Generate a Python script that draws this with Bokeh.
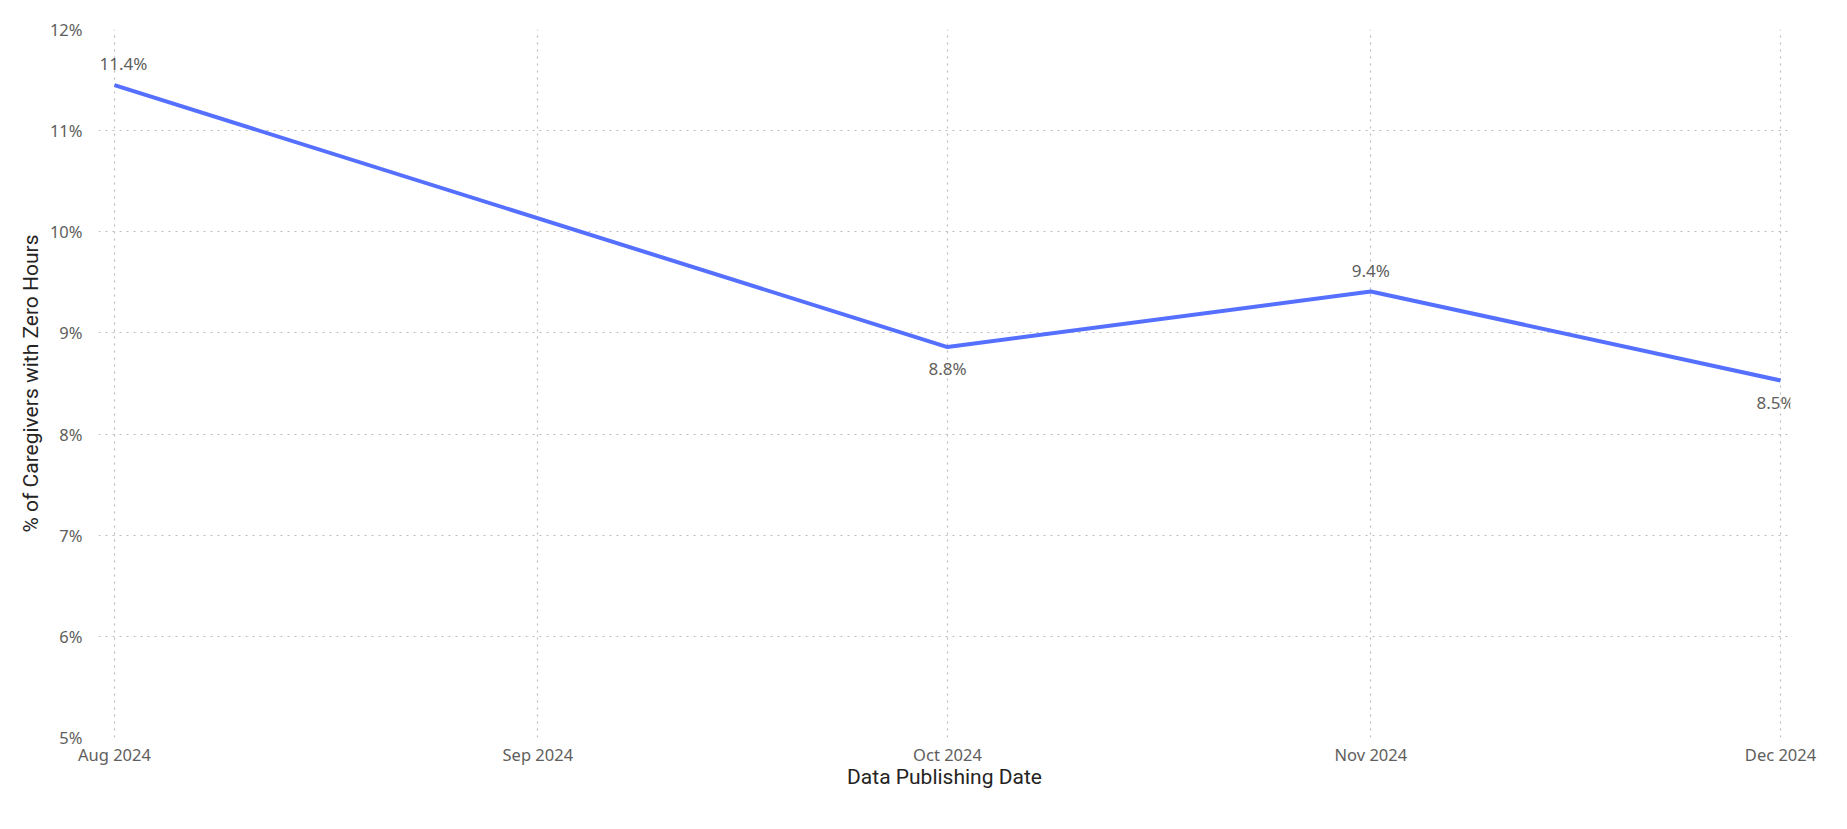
from datetime import datetime
from bokeh.plotting import figure
from bokeh.models import (Range1d, FixedTicker, DatetimeTickFormatter,
                          ColumnDataSource, CustomJSTickFormatter)
from bokeh.core.properties import value
from bokeh.embed import file_html
from bokeh.resources import INLINE

# ---- data ----
dates = ["2024-08-01", "2024-10-01", "2024-11-01", "2024-12-01"]
pct_zero_hours = [11.45, 8.86, 9.41, 8.53]
data_labels = ["11.4%", "8.8%", "9.4%", "8.5%"]
tick_months = ["2024-08-01", "2024-09-01", "2024-10-01", "2024-11-01", "2024-12-01"]
y_ticks = [5, 6, 7, 8, 9, 10, 11, 12]

# ---- style (label placement) ----
label_dx = [9, 0, 0, -5]
label_dy = [-22, 21, -21, 22]

def ms(s):
    return datetime.strptime(s, "%Y-%m-%d").timestamp() * 1000.0

xs = [datetime.strptime(d, "%Y-%m-%d") for d in dates]
DAY = 86400000.0

src = ColumnDataSource(dict(x=xs, y=pct_zero_hours, lab=data_labels, dx=label_dx, dy=label_dy))

p = figure(width=1847, height=829, x_axis_type="datetime",
           output_backend="svg", toolbar_location=None,
           x_range=Range1d(ms(tick_months[0]) - 1.17 * DAY, ms(tick_months[-1]) + 0.73 * DAY),
           y_range=Range1d(5, 12),
           min_border_left=98, min_border_right=57, min_border_top=29, min_border_bottom=92)
p.outline_line_color = None
p.background_fill_color = "white"
p.border_fill_color = "white"

p.line("x", "y", source=src, line_color="#5570FF", line_width=4, line_join="round")

p.text("x", "y", text="lab", source=src, x_offset="dx", y_offset="dy",
       text_align="center", text_baseline="middle", text_font=value("Noto Sans"),
       text_font_size="17px", text_color="#605E5C")

# x axis
xa = p.xaxis[0]
xa.ticker = FixedTicker(ticks=[ms(t) for t in tick_months])
xa.formatter = DatetimeTickFormatter(days="%b %Y", months="%b %Y", years="%b %Y")
xa.axis_line_color = None
xa.major_tick_line_color = None
xa.minor_tick_line_color = None
xa.major_tick_out = 0
xa.major_label_standoff = 5
xa.major_label_text_font = "Noto Sans"
xa.major_label_text_font_size = "16.5px"
xa.major_label_text_color = "#605E5C"
xa.axis_label = "Data Publishing Date"
xa.axis_label_text_font = "Roboto"
xa.axis_label_text_font_style = "normal"
xa.axis_label_text_font_size = "21px"
xa.axis_label_text_color = "#252423"
xa.axis_label_standoff = -4

# y axis
ya = p.yaxis[0]
ya.ticker = FixedTicker(ticks=y_ticks)
ya.formatter = CustomJSTickFormatter(code="return tick.toFixed(0) + '%';")
ya.axis_line_color = None
ya.major_tick_line_color = None
ya.minor_tick_line_color = None
ya.major_tick_out = 0
ya.major_label_standoff = 16
ya.major_label_text_font = "Noto Sans"
ya.major_label_text_font_size = "16.5px"
ya.major_label_text_color = "#605E5C"
ya.axis_label = "% of Caregivers with Zero Hours"
ya.axis_label_text_font = "Roboto"
ya.axis_label_text_font_style = "normal"
ya.axis_label_text_font_size = "21px"
ya.axis_label_text_color = "#252423"
ya.axis_label_standoff = 4

for g in (p.xgrid[0], p.ygrid[0]):
    g.grid_line_color = "#BEBCBA"
    g.grid_line_dash = "2 5"
    g.grid_line_width = 1.2

p.xgrid[0].ticker = xa.ticker
p.ygrid[0].ticker = ya.ticker

open("out.html", "w").write(file_html(p, INLINE))
